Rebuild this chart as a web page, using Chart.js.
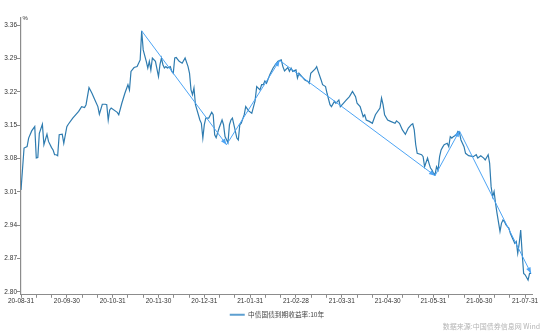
<!DOCTYPE html>
<html>
<head>
<meta charset="utf-8">
<script src="https://cdn.jsdelivr.net/npm/chart.js@4/dist/chart.umd.min.js"></script>
<style>
  body { margin: 0; background: #fff; }
  #wrap { position: relative; width: 554px; height: 333px; }
  #source {
    position: absolute; right: 14px; top: 321px;
    font: 7px "Noto Sans CJK SC", sans-serif; color: #b4b4b4;
    line-height: 10px; white-space: nowrap;
  }
</style>
</head>
<body>
<div id="wrap">
  <canvas id="yield-chart"></canvas>
  <div id="source">数据来源:中国债券信息网 Wind</div>
</div>
<script>
const seriesName = '中债国债到期收益率:10年';

// month-end tick labels, one per month starting at 2020-08-31
const monthLabels = ['20-08-31', '20-09-30', '20-10-31', '20-11-30', '20-12-31', '21-01-31',
  '21-02-28', '21-03-31', '21-04-30', '21-05-31', '21-06-30', '21-07-31'];

const yTicks = [2.80, 2.87, 2.94, 3.01, 3.08, 3.15, 3.22, 3.29, 3.36];

const dates = [
  '2020-08-31', '2020-09-02', '2020-09-04', '2020-09-05', '2020-09-07', '2020-09-09', '2020-09-10', '2020-09-11',
  '2020-09-12', '2020-09-14', '2020-09-15', '2020-09-17', '2020-09-18', '2020-09-20', '2020-09-21', '2020-09-22',
  '2020-09-23', '2020-09-24', '2020-09-25', '2020-09-27', '2020-09-28', '2020-09-30', '2020-10-01', '2020-10-04',
  '2020-10-08', '2020-10-10', '2020-10-12', '2020-10-13', '2020-10-15', '2020-10-17', '2020-10-19', '2020-10-21',
  '2020-10-22', '2020-10-24', '2020-10-26', '2020-10-27', '2020-10-28', '2020-10-29', '2020-10-30', '2020-11-03',
  '2020-11-04', '2020-11-06', '2020-11-08', '2020-11-10', '2020-11-11', '2020-11-12', '2020-11-14', '2020-11-16',
  '2020-11-18', '2020-11-19', '2020-11-20', '2020-11-22', '2020-11-23', '2020-11-24', '2020-11-25', '2020-11-26',
  '2020-11-28', '2020-11-30', '2020-12-01', '2020-12-02', '2020-12-03', '2020-12-04', '2020-12-05', '2020-12-06',
  '2020-12-08', '2020-12-09', '2020-12-10', '2020-12-11', '2020-12-12', '2020-12-14', '2020-12-16', '2020-12-18',
  '2020-12-20', '2020-12-21', '2020-12-22', '2020-12-23', '2020-12-24', '2020-12-25', '2020-12-28', '2020-12-29',
  '2020-12-30', '2020-12-31', '2021-01-01', '2021-01-03', '2021-01-05', '2021-01-06', '2021-01-07', '2021-01-08',
  '2021-01-10', '2021-01-12', '2021-01-13', '2021-01-14', '2021-01-16', '2021-01-17', '2021-01-18', '2021-01-19',
  '2021-01-20', '2021-01-22', '2021-01-23', '2021-01-24', '2021-01-25', '2021-01-27', '2021-01-28', '2021-01-30',
  '2021-02-01', '2021-02-03', '2021-02-04', '2021-02-06', '2021-02-07', '2021-02-08', '2021-02-09', '2021-02-10',
  '2021-02-12', '2021-02-14', '2021-02-16', '2021-02-17', '2021-02-19', '2021-02-20', '2021-02-21', '2021-02-23',
  '2021-02-24', '2021-02-25', '2021-02-26', '2021-02-28', '2021-03-01', '2021-03-02', '2021-03-04', '2021-03-06',
  '2021-03-08', '2021-03-09', '2021-03-10', '2021-03-13', '2021-03-14', '2021-03-15', '2021-03-17', '2021-03-18',
  '2021-03-20', '2021-03-21', '2021-03-23', '2021-03-24', '2021-03-26', '2021-03-27', '2021-03-29', '2021-03-30',
  '2021-04-01', '2021-04-03', '2021-04-05', '2021-04-07', '2021-04-09', '2021-04-10', '2021-04-12', '2021-04-14',
  '2021-04-15', '2021-04-16', '2021-04-18', '2021-04-20', '2021-04-22', '2021-04-25', '2021-04-26', '2021-04-27',
  '2021-04-28', '2021-04-30', '2021-05-02', '2021-05-05', '2021-05-06', '2021-05-08', '2021-05-10', '2021-05-12',
  '2021-05-14', '2021-05-16', '2021-05-17', '2021-05-18', '2021-05-19', '2021-05-20', '2021-05-23', '2021-05-24',
  '2021-05-25', '2021-05-27', '2021-05-28', '2021-05-29', '2021-05-30', '2021-05-31', '2021-06-01', '2021-06-02',
  '2021-06-03', '2021-06-04', '2021-06-05', '2021-06-06', '2021-06-07', '2021-06-09', '2021-06-10', '2021-06-11',
  '2021-06-12', '2021-06-13', '2021-06-15', '2021-06-16', '2021-06-17', '2021-06-18', '2021-06-20', '2021-06-21',
  '2021-06-23', '2021-06-26', '2021-06-28', '2021-06-29', '2021-07-01', '2021-07-03', '2021-07-04', '2021-07-06',
  '2021-07-07', '2021-07-08', '2021-07-09', '2021-07-10', '2021-07-11', '2021-07-12', '2021-07-14', '2021-07-15',
  '2021-07-16', '2021-07-17', '2021-07-18', '2021-07-19', '2021-07-20', '2021-07-21', '2021-07-22', '2021-07-24',
  '2021-07-25', '2021-07-26', '2021-07-27', '2021-07-28', '2021-07-29', '2021-07-30', '2021-07-31', '2021-08-02',
  '2021-08-03', '2021-08-04'
];

const yields = [
  3.014, 3.102, 3.105, 3.123, 3.138, 3.147, 3.081, 3.082,
  3.133, 3.152, 3.109, 3.131, 3.116, 3.103, 3.098, 3.088,
  3.088, 3.086, 3.130, 3.131, 3.112, 3.147, 3.152, 3.165,
  3.179, 3.189, 3.187, 3.193, 3.229, 3.217, 3.203, 3.189,
  3.173, 3.194, 3.194, 3.193, 3.161, 3.182, 3.186, 3.177,
  3.172, 3.196, 3.217, 3.235, 3.224, 3.263, 3.271, 3.273,
  3.287, 3.348, 3.308, 3.284, 3.270, 3.284, 3.266, 3.291,
  3.284, 3.252, 3.277, 3.291, 3.277, 3.270, 3.273, 3.270,
  3.273, 3.263, 3.259, 3.291, 3.292, 3.284, 3.280, 3.291,
  3.273, 3.259, 3.224, 3.214, 3.228, 3.193, 3.161, 3.154,
  3.123, 3.151, 3.165, 3.165, 3.177, 3.172, 3.130, 3.124,
  3.144, 3.161, 3.151, 3.126, 3.113, 3.151, 3.161, 3.165,
  3.151, 3.123, 3.119, 3.151, 3.154, 3.172, 3.189, 3.180,
  3.175, 3.201, 3.231, 3.224, 3.235, 3.235, 3.243, 3.238,
  3.256, 3.270, 3.280, 3.284, 3.287, 3.273, 3.264, 3.271,
  3.263, 3.270, 3.263, 3.266, 3.249, 3.259, 3.252, 3.245,
  3.242, 3.238, 3.259, 3.268, 3.273, 3.263, 3.245, 3.235,
  3.231, 3.217, 3.193, 3.189, 3.200, 3.196, 3.203, 3.189,
  3.196, 3.203, 3.210, 3.221, 3.210, 3.196, 3.189, 3.168,
  3.172, 3.161, 3.158, 3.154, 3.172, 3.186, 3.207, 3.193,
  3.172, 3.161, 3.158, 3.154, 3.159, 3.154, 3.140, 3.131,
  3.144, 3.151, 3.153, 3.140, 3.109, 3.091, 3.088, 3.084,
  3.063, 3.081, 3.070, 3.060, 3.056, 3.049, 3.046, 3.063,
  3.056, 3.084, 3.098, 3.104, 3.109, 3.112, 3.105, 3.126,
  3.123, 3.126, 3.130, 3.137, 3.135, 3.119, 3.105, 3.091,
  3.086, 3.084, 3.088, 3.081, 3.086, 3.081, 3.077, 3.088,
  3.070, 3.021, 3.000, 3.011, 2.986, 2.965, 2.927, 2.944,
  2.951, 2.948, 2.941, 2.937, 2.934, 2.923, 2.916, 2.902,
  2.906, 2.881, 2.902, 2.930, 2.881, 2.839, 2.836, 2.825,
  2.839, 2.839
];

// hand-drawn trend arrows: turning points of the move
const trendDates = ['2020-11-19', '2021-01-15', '2021-02-18', '2021-06-01', '2021-06-17', '2021-08-04'];
const trendValues = [3.348, 3.109, 3.286, 3.044, 3.138, 2.839];

// date -> month offset from 2020-08-31 (each month end lands on a whole number)
function monthPos(s) {
  const [y, m, d] = s.split('-').map(Number);
  const idx = (y - 2020) * 12 + (m - 9);
  const days = new Date(y, m, 0).getDate();
  return idx + d / days;
}

const lineData = dates.map((d, i) => ({ x: monthPos(d), y: yields[i] }));
const trendData = trendDates.map((d, i) => ({ x: monthPos(d), y: trendValues[i] }));

const axisColor = '#8c8c8c';
const lineColor = '#2f7cb0';
const trendColor = '#4da4f4';

// arrow heads at the end of every trend segment, plus the % unit over the y axis
const extras = {
  id: 'extras',
  afterDatasetsDraw(chart) {
    const pts = chart.getDatasetMeta(1).data;
    const ctx = chart.ctx;
    ctx.save();
    ctx.fillStyle = trendColor;
    for (let i = 1; i < pts.length; i++) {
      const a = pts[i - 1], b = pts[i];
      const ang = Math.atan2(b.y - a.y, b.x - a.x);
      ctx.beginPath();
      ctx.moveTo(b.x, b.y);
      ctx.lineTo(b.x - 6 * Math.cos(ang) + 2.4 * Math.sin(ang), b.y - 6 * Math.sin(ang) - 2.4 * Math.cos(ang));
      ctx.lineTo(b.x - 6 * Math.cos(ang) - 2.4 * Math.sin(ang), b.y - 6 * Math.sin(ang) + 2.4 * Math.cos(ang));
      ctx.closePath();
      ctx.fill();
    }
    ctx.restore();
  },
  afterDraw(chart) {
    const ctx = chart.ctx;
    const area = chart.chartArea;
    ctx.save();
    ctx.font = '6px "Liberation Sans", sans-serif';
    ctx.fillStyle = '#333';
    ctx.textBaseline = 'middle';
    ctx.fillText('%', area.left + 1.5, area.top + 0.5);
    ctx.restore();
  }
};

Chart.defaults.font.family = '"Liberation Sans", "Noto Sans CJK SC", sans-serif';
Chart.defaults.animation = false;

new Chart(document.getElementById('yield-chart'), {
  type: 'line',
  data: {
    datasets: [
      {
        label: seriesName,
        data: lineData,
        borderColor: lineColor,
        borderWidth: 1.2,
        pointRadius: 0,
        tension: 0,
        order: 1
      },
      {
        label: 'trend',
        data: trendData,
        borderColor: trendColor,
        borderWidth: 1,
        pointRadius: 0,
        tension: 0,
        order: 0
      }
    ]
  },
  options: {
    responsive: true,
    maintainAspectRatio: false,
    layout: { padding: { left: 0, right: 0, top: 18, bottom: 5 } },
    plugins: {
      tooltip: { enabled: false },
      legend: {
        position: 'bottom',
        labels: {
          filter: item => item.datasetIndex === 0,
          generateLabels: chart => {
            const items = Chart.defaults.plugins.legend.labels.generateLabels(chart);
            items.forEach(it => { it.lineWidth = 2; it.strokeStyle = '#5d9fd0'; });
            return items;
          },
          usePointStyle: true,
          pointStyle: 'line',
          pointStyleWidth: 15,
          padding: 6,
          color: '#444',
          font: { size: 6.7, family: '"Noto Sans CJK SC", sans-serif' }
        }
      }
    },
    scales: {
      x: {
        type: 'linear',
        min: 0,
        max: 11.15,
        afterBuildTicks: scale => {
          const ticks = [];
          for (let k = 0; k <= monthLabels.length * 3 - 3; k++) ticks.push({ value: k / 3 });
          scale.ticks = ticks;
        },
        afterFit: scale => { scale.height = 10.5; },
        grid: { drawOnChartArea: false, drawTicks: true, tickLength: 3, color: axisColor },
        border: { color: axisColor, width: 1 },
        ticks: {
          autoSkip: false,
          maxRotation: 0,
          minRotation: 0,
          padding: 0,
          color: '#333',
          font: { size: 6.5 },
          callback: value => {
            const r = Math.round(value);
            return Math.abs(value - r) < 1e-6 ? monthLabels[r] : '';
          }
        }
      },
      y: {
        min: 2.794,
        max: 3.375,
        afterBuildTicks: scale => { scale.ticks = yTicks.map(v => ({ value: v })); },
        afterFit: scale => { scale.width = 21; },
        grid: { drawOnChartArea: false, drawTicks: true, tickLength: 4, color: axisColor },
        border: { color: axisColor, width: 1.2 },
        ticks: {
          padding: 0,
          color: '#333',
          font: { size: 6.5 },
          callback: value => value.toFixed(2)
        }
      },
      // empty right-hand gutter so the legend still centres on the full width
      gutter: {
        position: 'right',
        afterFit: scale => { scale.width = 22; },
        grid: { display: false },
        border: { display: false },
        ticks: { display: false }
      }
    }
  },
  plugins: [extras]
});
</script>
</body>
</html>
